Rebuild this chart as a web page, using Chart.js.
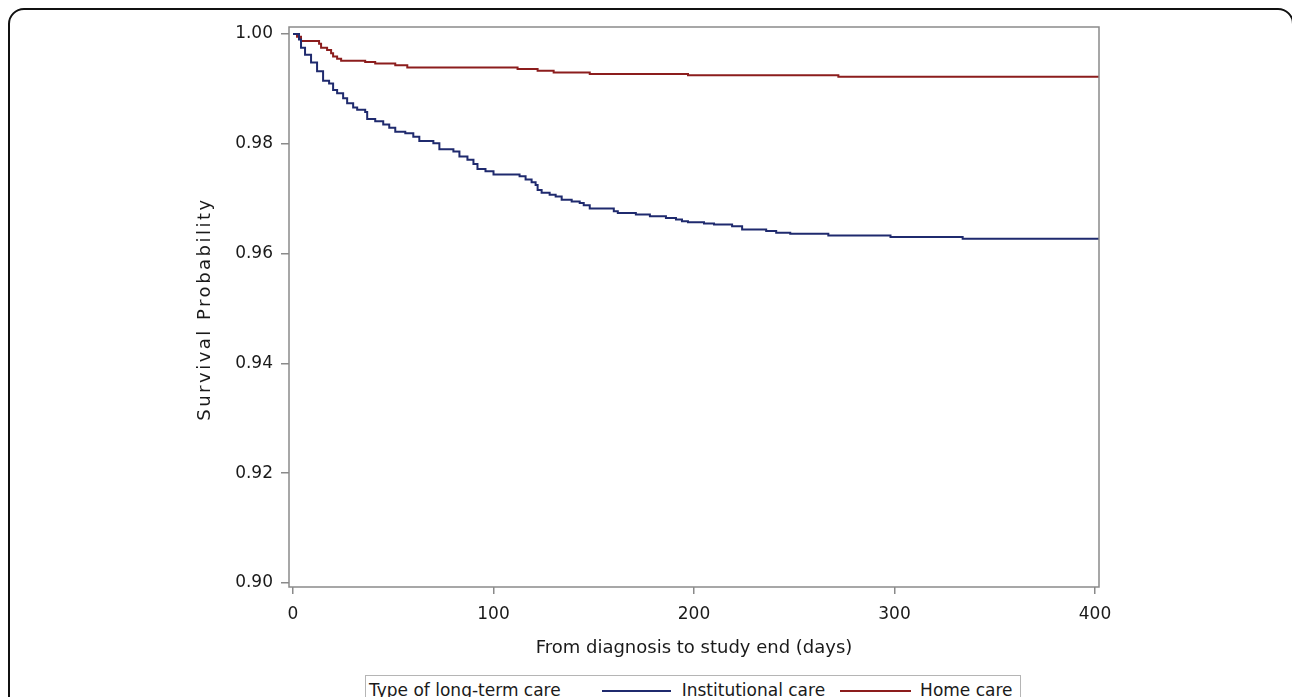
<!DOCTYPE html>
<html>
<head>
<meta charset="utf-8">
<script src="https://cdn.jsdelivr.net/npm/chart.js@4.4.1/dist/chart.umd.min.js"></script>
<style>
    html, body { margin: 0; padding: 0; background: #fff; overflow: hidden; }
    #wrap { position: relative; width: 1292px; height: 697px; overflow: hidden; }
    #frame {
        position: absolute; left: 8px; top: 8px; width: 1286px; height: 800px;
        border: 2.5px solid #111; border-radius: 16px; box-sizing: border-box;
    }
    #km { position: absolute; left: 0; top: 0; }
    #legend {
        position: absolute; left: 365px; top: 675px; width: 656px; height: 40px;
        border: 1px solid #b5b5b5; box-sizing: border-box; background: #fff;
        font-family: 'DejaVu Sans', sans-serif; font-size: 17px; color: #1a1a1a;
        display: flex; align-items: flex-start; padding: 4px 0 0 3px; white-space: nowrap;
    }
    #legend .swatch { display: inline-block; height: 2px; margin-top: 10px; }
</style>
</head>
<body>
<div id="wrap">
    <div id="frame"></div>
    <canvas id="km" width="1292" height="697"></canvas>
    <div id="legend">
        <span>Type of long-term care</span>
        <span class="swatch" style="width:69px;background:#1f2a6e;margin-left:41px"></span>
        <span style="margin-left:11px">Institutional care</span>
        <span class="swatch" style="width:71px;background:#8c1d1d;margin-left:15px"></span>
        <span style="margin-left:9px">Home care</span>
    </div>
</div>
<script>
// Kaplan-Meier estimates (time in days, survival probability)
const instTimes = [0, 3, 4, 6, 9, 12, 15, 18, 20, 22, 25, 27, 30, 32, 36, 37, 41, 45, 48, 51, 56, 60, 63, 70, 73, 80, 83, 87, 90, 92, 96, 100,
    113, 116, 119, 121, 122, 124, 128, 131, 134, 139, 143, 145, 148, 160, 162, 171, 178, 186, 191, 194, 197, 205, 210, 219, 224,
    236, 241, 248, 267, 298, 334, 402];
const instSurv = [1.0, 0.9990, 0.9975, 0.9962, 0.9948, 0.9932, 0.9915, 0.9910, 0.9898, 0.9892, 0.9883, 0.9874, 0.9866, 0.9862, 0.9858,
    0.9845, 0.9841, 0.9835, 0.9829, 0.9822, 0.9819, 0.9813, 0.9805, 0.9801, 0.9790, 0.9786, 0.9777, 0.9771, 0.9763, 0.9754, 0.9750,
    0.9744, 0.9741, 0.9735, 0.9730, 0.9725, 0.9716, 0.9711, 0.9707, 0.9704, 0.9698, 0.9695, 0.9692, 0.9688, 0.9682, 0.9677, 0.9674,
    0.9671, 0.9668, 0.9665, 0.9662, 0.9659, 0.9657, 0.9655, 0.9653, 0.9650, 0.9644, 0.9641, 0.9638, 0.9636, 0.9633, 0.9630, 0.9627,
    0.9627];

const homeTimes = [0, 2, 4, 13, 14, 17, 19, 20, 22, 24, 36, 41, 51, 57, 112, 122, 130, 148, 197, 272, 402];
const homeSurv = [1.0, 0.9995, 0.9987, 0.9982, 0.9975, 0.9971, 0.9965, 0.9959, 0.9955, 0.9951, 0.9949, 0.9946, 0.9943, 0.9939,
    0.9936, 0.9933, 0.9930, 0.9927, 0.9925, 0.9922, 0.9922];

const xTicks = [0, 100, 200, 300, 400];
const yTicks = [0.90, 0.92, 0.94, 0.96, 0.98, 1.00];

const toPoints = (times, surv) => times.map((t, i) => ({ x: t, y: surv[i] }));

const textColor = '#1a1a1a';
const axisColor = '#8a8a8a';

// box around the plot area (SAS style frame) + spaced-out y axis title
const frameBoxPlugin = {
    id: 'frameBox',
    afterDraw(chart) {
        const { ctx, chartArea } = chart;
        ctx.save();
        ctx.strokeStyle = axisColor;
        ctx.lineWidth = 1.5;
        ctx.strokeRect(chartArea.left, chartArea.top, chartArea.right - chartArea.left, chartArea.bottom - chartArea.top);
        ctx.restore();

        ctx.save();
        ctx.translate(205, (chartArea.top + chartArea.bottom) / 2 + 2);
        ctx.rotate(-Math.PI / 2);
        ctx.font = '18px "DejaVu Sans"';
        ctx.fillStyle = textColor;
        ctx.letterSpacing = '2.5px';
        ctx.textAlign = 'center';
        ctx.textBaseline = 'middle';
        ctx.fillText('Survival Probability', 0, 0);
        ctx.restore();
    }
};

const data = {
    datasets: [
        {
            label: 'Institutional care',
            data: toPoints(instTimes, instSurv),
            borderColor: '#1f2a6e',
            borderWidth: 2,
            pointRadius: 0,
            stepped: 'before',
            fill: false,
        },
        {
            label: 'Home care',
            data: toPoints(homeTimes, homeSurv),
            borderColor: '#8c1d1d',
            borderWidth: 2,
            pointRadius: 0,
            stepped: 'before',
            fill: false,
        }
    ]
};

const options = {
    responsive: false,
    animation: false,
    layout: {
        padding: { left: 195, top: 27, right: 193, bottom: 38 }
    },
    plugins: {
        legend: { display: false },
        tooltip: { enabled: false },
    },
    scales: {
        x: {
            type: 'linear',
            min: -2,
            max: 402,
            afterBuildTicks: (scale) => { scale.ticks = xTicks.map(v => ({ value: v })); },
            afterFit: (scale) => { scale.height = 72; },
            border: { display: false },
            grid: { drawOnChartArea: false, drawTicks: true, tickLength: 7, color: axisColor, lineWidth: 1.5 },
            ticks: {
                padding: 10,
                maxRotation: 0,
                color: textColor,
                font: { family: 'DejaVu Sans', size: 17 },
                callback: (v) => String(v),
            },
            title: {
                display: true,
                text: 'From diagnosis to study end (days)',
                color: textColor,
                font: { family: 'DejaVu Sans', size: 18 },
                padding: 0,
            },
        },
        y: {
            min: 0.89927,
            max: 1.00127,
            afterBuildTicks: (scale) => { scale.ticks = yTicks.map(v => ({ value: v })); },
            afterFit: (scale) => { scale.width = 94; },
            border: { display: false },
            grid: { drawOnChartArea: false, drawTicks: true, tickLength: 8, color: axisColor, lineWidth: 1.5 },
            ticks: {
                padding: 8,
                color: textColor,
                font: { family: 'DejaVu Sans', size: 17 },
                callback: (v) => Number(v).toFixed(2),
            },
            title: { display: false },
        }
    }
};

new Chart(document.getElementById('km').getContext('2d'), {
    type: 'line',
    data: data,
    options: options,
    plugins: [frameBoxPlugin],
});
</script>
</body>
</html>
